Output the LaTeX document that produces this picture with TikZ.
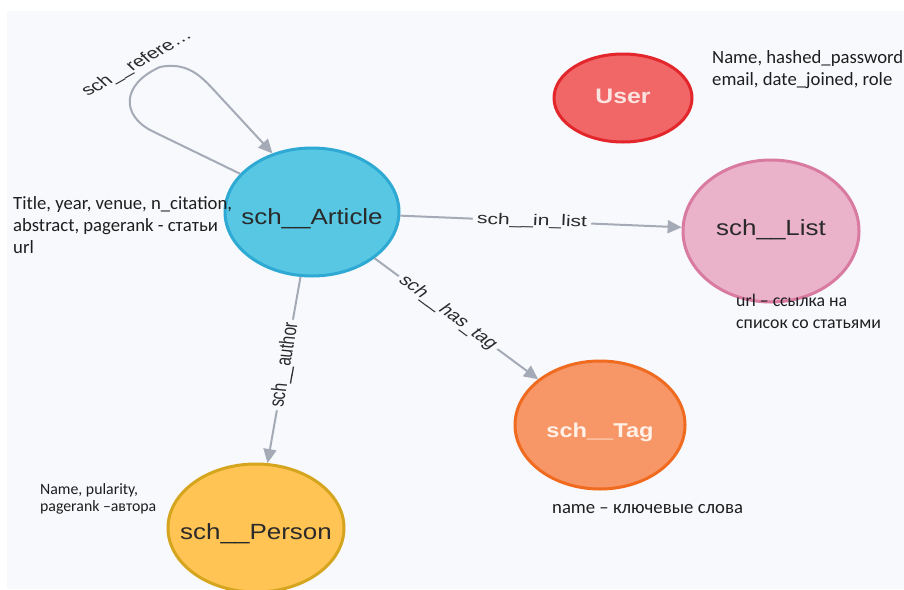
\documentclass[tikz,border=0pt]{standalone}
\usepackage{fontspec}
\usetikzlibrary{shapes.geometric,arrows.meta}
\newfontfamily\nodefont[FakeStretch=1.18]{Liberation Sans}
\newfontfamily\edgefont{Liberation Sans}
\newfontfamily\annfont{Carlito}
\definecolor{bg}{HTML}{F7F9FC}
\definecolor{edgec}{HTML}{A5ABB6}
\definecolor{lblc}{HTML}{2A2A2A}
\definecolor{anc}{HTML}{1E1E1E}
\definecolor{artfill}{HTML}{57C7E3}
\definecolor{artdraw}{HTML}{2EA9D3}
\definecolor{usrfill}{HTML}{F16667}
\definecolor{usrdraw}{HTML}{E3262B}
\definecolor{usrtext}{HTML}{FBE3DF}
\definecolor{lstfill}{HTML}{EBB3C9}
\definecolor{lstdraw}{HTML}{D97BA0}
\definecolor{tagfill}{HTML}{F79767}
\definecolor{tagdraw}{HTML}{F06A1F}
\definecolor{tagtext}{HTML}{FFF1E8}
\definecolor{perfill}{HTML}{FFC454}
\definecolor{perdraw}{HTML}{D5A51E}
\newcommand{\ndtext}[2]{\makebox[0pt]{\raisebox{-#1pt}[0pt][0pt]{#2}}}
\begin{document}
\begin{tikzpicture}[x=1pt,y=-1pt,
  nd/.style={ellipse, line width=3pt, inner sep=0pt, text=lblc,
    font=\nodefont\fontsize{22}{26}\selectfont},
  conn/.style={draw=edgec, line width=2pt, -{Triangle[length=14pt,width=13pt]}},
  elab/.style={font=\edgefont\fontsize{15.5}{18}\selectfont, text=lblc, fill=bg, inner sep=3pt, transform shape},
  ann/.style={font=\annfont\fontsize{18.7}{22}\selectfont, align=left, anchor=north west, inner sep=0pt, text=anc}]
\useasboundingbox (0,0) rectangle (904,589);
\fill[white] (0,0) rectangle (904,589);
\fill[bg] (7,11) rectangle (904,589);

% nodes
\node[nd, fill=artfill, draw=artdraw, minimum width=174pt, minimum height=128pt] (art) at (312,212) {\ndtext{12.9}{sch\_\_Article}};
\node[nd, fill=usrfill, draw=usrdraw, minimum width=138pt, minimum height=88pt, text=usrtext, font=\nodefont\bfseries\fontsize{21}{25}\selectfont] (usr) at (623,98) {\ndtext{5.1}{User}};
\node[nd, fill=lstfill, draw=lstdraw, minimum width=176pt, minimum height=142pt] (lst) at (771,231) {\ndtext{4.9}{sch\_\_List}};
\node[nd, fill=tagfill, draw=tagdraw, minimum width=170pt, minimum height=128pt, text=tagtext, font=\nodefont\bfseries\fontsize{20}{24}\selectfont] (tag) at (600,425) {\ndtext{12.2}{sch\_\_Tag}};
\node[nd, fill=perfill, draw=perdraw, minimum width=176pt, minimum height=128pt] (per) at (256,528) {\ndtext{11.9}{sch\_\_Person}};

% connectors
\draw[conn] (art.152) -- (152,131) .. controls (122,116) and (120,85) .. (160,67)
  .. controls (185,62) and (199,74) .. (212,88) -- (art.124);
\draw[conn] (art) -- (lst);
\draw[conn] (art) -- (per);
\draw[conn] (art) -- (tag);

% connector labels (picture is stretched horizontally)
\begin{scope}[shift={(137,64)}, xscale=1.36]
  \node[elab, fill=none, rotate=37.6] (lref) {sch\_\_refere…};
\end{scope}
\begin{scope}[shift={(532,221.1)}, xscale=1.36]
  \node[elab, rotate=-1.9] (lin) {sch\_\_in\_list};
\end{scope}
\begin{scope}[shift={(284.9,365)}, xscale=1.36]
  \node[elab, rotate=82.8] (lau) {sch\_\_author};
\end{scope}
\begin{scope}[shift={(448,312.6)}, xscale=1.36]
  \node[elab, rotate=-45.3] (ltag) {sch\_\_has\_tag};
\end{scope}

% annotations
\node[ann] (aart) at (13,196) {Title, year, venue, n\_citation,\\abstract, pagerank - статьи\\url};
\node[ann] (ausr) at (712,50) {Name, hashed\_password\\email, date\_joined, role};
\node[ann, font=\annfont\fontsize{17.8}{22}\selectfont] (alst) at (736,294) {url – ссылка на\\список со статьями};
\node[ann] (atag) at (552,504) {name – ключевые слова};
\node[ann, font=\annfont\fontsize{15.8}{17.5}\selectfont] (aper) at (40,483) {Name, pularity,\\pagerank –автора};
\end{tikzpicture}
\end{document}
